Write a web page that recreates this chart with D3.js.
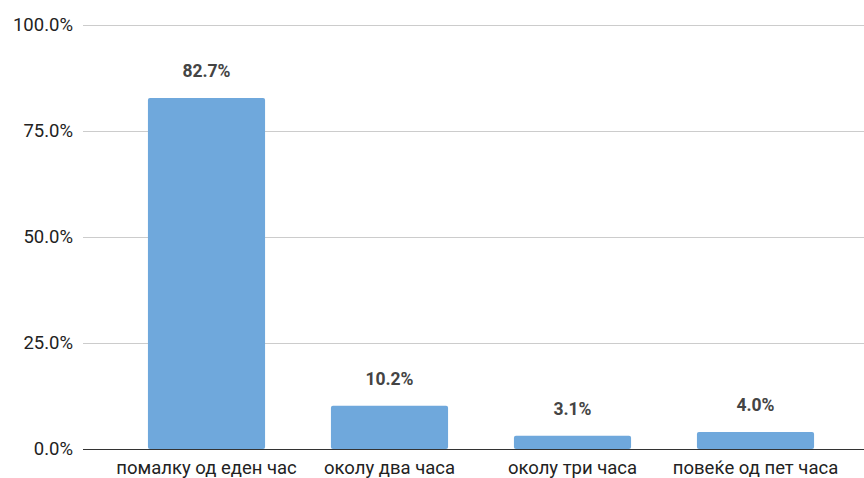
<!DOCTYPE html>
<html>
<head>
<meta charset="utf-8">
<script src="https://cdn.jsdelivr.net/npm/d3@7"></script>
<style>
  body { margin: 0; background: #fff; }
  text { font-family: Roboto, "Noto Sans", sans-serif; }
</style>
</head>
<body>
<div class="chart"></div>
<script>
const width = 864,
  height = 478;

const categories = [
  "помалку од еден час",
  "околу два часа",
  "околу три часа",
  "повеќе од пет часа",
];
const values = [82.7, 10.2, 3.1, 4.0];
const yTicks = [0, 25, 50, 75, 100];

const gridLeft = 83,
  gridRight = 864,
  plotTop = 24.5,
  plotBottom = 449;

const svg = d3
  .select(".chart")
  .append("svg")
  .attr("width", width)
  .attr("height", height);

const xScale = d3
  .scaleBand()
  .domain(categories)
  .range([115, 847])
  .paddingInner(0.36)
  .paddingOuter(0.18);

const yScale = d3.scaleLinear().domain([0, 100]).range([plotBottom, plotTop]);

const pct = (v) => v.toFixed(1) + "%";

// grid
svg
  .append("g")
  .selectAll("line")
  .data(yTicks)
  .enter()
  .append("line")
  .attr("x1", gridLeft)
  .attr("x2", gridRight)
  .attr("y1", (d) => Math.round(yScale(d)) + 0.5)
  .attr("y2", (d) => Math.round(yScale(d)) + 0.5)
  .style("stroke", (d) => (d === 0 ? "#333" : "#ccc"))
  .style("stroke-width", 1);

// y labels
const yAxis = d3
  .axisLeft(yScale)
  .tickValues(yTicks)
  .tickFormat(pct)
  .tickSize(0)
  .tickPadding(10);

const yG = svg
  .append("g")
  .attr("transform", "translate(" + gridLeft + ",0)")
  .call(yAxis);
yG.select(".domain").remove();
yG.selectAll("text")
  .style("font-size", "18.5px")
  .style("fill", "#222")
  .style("font-family", "Roboto, sans-serif");

// bars
svg
  .selectAll(".bar")
  .data(values)
  .enter()
  .append("rect")
  .attr("class", "bar")
  .attr("x", (d, i) => xScale(categories[i]))
  .attr("y", (d) => yScale(d))
  .attr("width", xScale.bandwidth())
  .attr("height", (d) => plotBottom - yScale(d))
  .attr("rx", 2)
  .style("fill", "#6fa8dc");

// value labels
svg
  .selectAll(".val")
  .data(values)
  .enter()
  .append("text")
  .attr("class", "val")
  .attr("x", (d, i) => xScale(categories[i]) + xScale.bandwidth() / 2)
  .attr("y", (d) => yScale(d) - 21)
  .attr("text-anchor", "middle")
  .text(pct)
  .style("font-size", "17.5px")
  .style("font-weight", "bold")
  .style("fill", "#444");

// x labels
const xAxis = d3.axisBottom(xScale).tickSize(0).tickPadding(12);
const xG = svg
  .append("g")
  .attr("transform", "translate(0," + plotBottom + ")")
  .call(xAxis);
xG.select(".domain").remove();
xG.selectAll("text")
  .style("font-size", "18.5px")
  .style("fill", "#222")
  .style("font-family", "Roboto, sans-serif");
</script>
</body>
</html>
